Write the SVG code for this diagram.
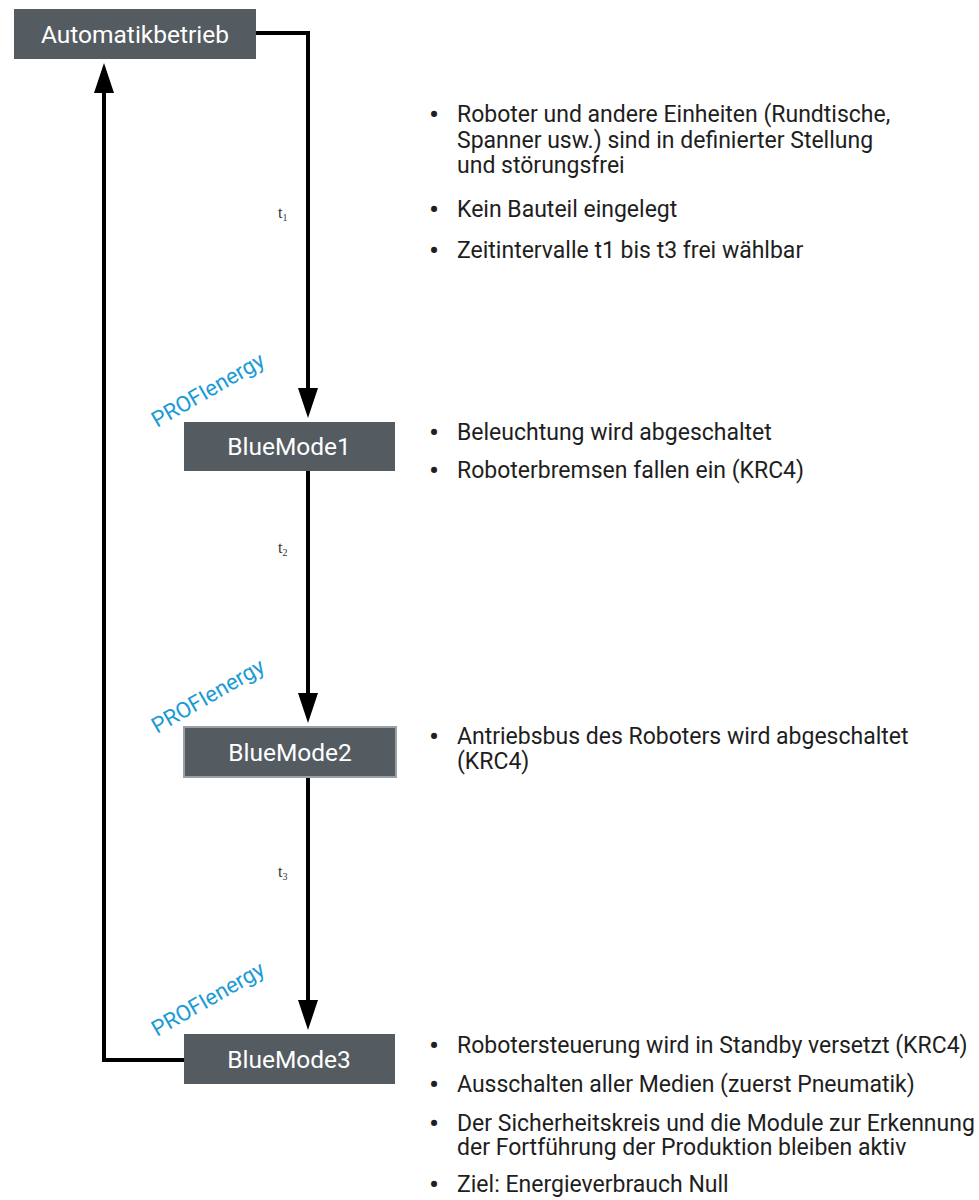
<svg xmlns="http://www.w3.org/2000/svg" width="979" height="1200" viewBox="0 0 979 1200">
<style>
.node{fill:#545b61}
.ntext{font-family:Roboto,"Liberation Sans",sans-serif;font-size:24.5px;fill:#ffffff;text-anchor:middle}
.conn{fill:none;stroke:#000;stroke-width:4}
.pe{font-family:Roboto,"Liberation Sans",sans-serif;font-size:22px;fill:#1a9ad6}
.t{font-family:"Liberation Serif",serif;font-size:16px;fill:#333}
.sub{font-size:10px}
.b{font-family:Roboto,"Liberation Sans",sans-serif;font-size:23px;fill:#1e1e1e}
.d{font-family:Roboto,"Liberation Sans",sans-serif;font-size:30px;fill:#1e1e1e}
</style>
<defs>
<marker id="arr" markerUnits="userSpaceOnUse" markerWidth="30" markerHeight="20" refX="10" refY="10" orient="auto">
<path d="M0,0 L30,10 L0,20 z" fill="#000"/>
</marker>
</defs>
<rect width="979" height="1200" fill="#fff"/>
<g id="connectors">
<path class="conn" d="M256,33 H308 V398" marker-end="url(#arr)"/>
<path class="conn" d="M308,471 V703" marker-end="url(#arr)"/>
<path class="conn" d="M308,778 V1010" marker-end="url(#arr)"/>
<path class="conn" d="M184,1060 H104 V83" marker-end="url(#arr)"/>
<text class="t" x="278" y="218">t<tspan class="sub" dy="3">1</tspan></text>
<text class="t" x="278" y="553">t<tspan class="sub" dy="3">2</tspan></text>
<text class="t" x="278" y="877">t<tspan class="sub" dy="3">3</tspan></text>
</g>
<g id="automatikbetrieb">
<rect class="node" x="14" y="9" width="242" height="50"/>
<text class="ntext" x="135" y="43">Automatikbetrieb</text>
</g>
<g id="bluemode1">
<rect class="node" x="184" y="422" width="211" height="49"/>
<text class="ntext" x="289" y="455">BlueMode1</text>
<text class="pe" transform="translate(157,428) rotate(-30)">PROFIenergy</text>
</g>
<g id="bluemode2">
<rect class="node" x="184" y="727" width="212" height="50" stroke="#9aa1a6" stroke-width="2"/>
<text class="ntext" x="290" y="761">BlueMode2</text>
<text class="pe" transform="translate(157,734) rotate(-30)">PROFIenergy</text>
</g>
<g id="bluemode3">
<rect class="node" x="184" y="1034" width="211" height="50"/>
<text class="ntext" x="289" y="1068">BlueMode3</text>
<text class="pe" transform="translate(157,1037) rotate(-30)">PROFIenergy</text>
</g>
<g id="notes1">
<text class="d" x="429" y="125">•</text>
<text class="b" x="457" y="122">Roboter und andere Einheiten (Rundtische,<tspan x="457" y="148">Spanner usw.) sind in definierter Stellung</tspan><tspan x="457" y="173">und störungsfrei</tspan></text>
<text class="d" x="429" y="220">•</text>
<text class="b" x="457" y="217">Kein Bauteil eingelegt</text>
<text class="d" x="429" y="261">•</text>
<text class="b" x="457" y="258">Zeitintervalle t1 bis t3 frei wählbar</text>
</g>
<g id="notes2">
<text class="d" x="429" y="443">•</text>
<text class="b" x="457" y="440">Beleuchtung wird abgeschaltet</text>
<text class="d" x="429" y="481">•</text>
<text class="b" x="457" y="478">Roboterbremsen fallen ein (KRC4)</text>
</g>
<g id="notes3">
<text class="d" x="429" y="747">•</text>
<text class="b" x="457" y="744">Antriebsbus des Roboters wird abgeschaltet<tspan x="457" y="769">(KRC4)</tspan></text>
</g>
<g id="notes4">
<text class="d" x="429" y="1056">•</text>
<text class="b" x="457" y="1053">Robotersteuerung wird in Standby versetzt (KRC4)</text>
<text class="d" x="429" y="1095">•</text>
<text class="b" x="457" y="1092">Ausschalten aller Medien (zuerst Pneumatik)</text>
<text class="d" x="429" y="1134">•</text>
<text class="b" x="457" y="1131">Der Sicherheitskreis und die Module zur Erkennung<tspan x="457" y="1155">der Fortführung der Produktion bleiben aktiv</tspan></text>
<text class="d" x="429" y="1195">•</text>
<text class="b" x="457" y="1192">Ziel: Energieverbrauch Null</text>
</g>
</svg>
